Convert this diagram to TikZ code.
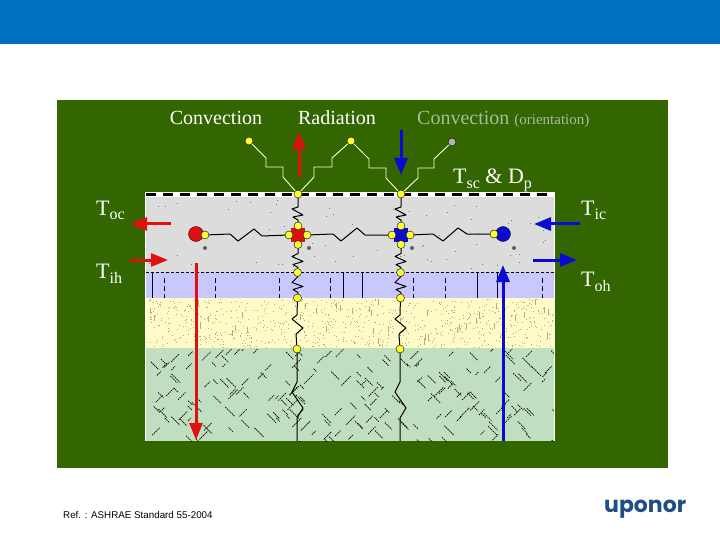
\documentclass[tikz,border=0pt]{standalone}
\usepackage{fontspec}
\setmainfont{Liberation Serif}
\setsansfont{Liberation Sans}
\newfontfamily\logofont{Poppins}
\usetikzlibrary{arrows.meta}
\definecolor{band}{HTML}{0070C0}
\definecolor{panel}{HTML}{336600}
\definecolor{concrete}{HTML}{DCDCDC}
\definecolor{lavender}{HTML}{C8C8FF}
\definecolor{sand}{HTML}{FFFBC8}
\definecolor{soil}{HTML}{C0DFC0}
\definecolor{speck}{HTML}{777777}
\definecolor{grit}{HTML}{B4AE78}
\definecolor{dim}{HTML}{A9BCA0}
\definecolor{dot}{HTML}{FFFF33}
\definecolor{hot}{HTML}{E01010}
\definecolor{cold}{HTML}{0A0AD0}
\definecolor{logoblue}{HTML}{1F4E86}
\tikzset{
  junction/.style={circle,fill=dot,draw=black,line width=0.4pt,inner sep=0pt,minimum size=8pt},
  wire/.style={black,line width=1pt},
  skywire/.style={white!85!dot,line width=0.9pt},
  hotarrow/.style={hot,line width=3pt,-{Triangle[length=17pt,width=13pt]}},
  coldarrow/.style={cold,line width=3pt,-{Triangle[length=17pt,width=13pt]}},
  label/.style={white,font=\fontsize{20}{20}\selectfont,inner sep=0pt,anchor=base west},
  biglabel/.style={label,font=\fontsize{22}{22}\selectfont}
}
\newcommand{\lowtext}[1]{\raisebox{-5pt}{\fontsize{16}{16}\selectfont #1}}

\begin{document}
\begin{tikzpicture}[x=1pt,y=-1pt,line join=round]
  % canvas 720 x 540
  \fill[white] (0,0) rectangle (720,540);
  \fill[band] (0,0) rectangle (720,44);
  \fill[panel] (57,100) rectangle (668,468);

  % ---- wall layers ----
  \fill[white] (145,192) rectangle (555,441);
  \fill[concrete] (146,197) rectangle (554,272);
  \fill[lavender] (146,272) rectangle (554,298);
  \fill[sand] (146,298) rectangle (554,348);
  \fill[soil] (146,348) rectangle (554,441);
  % surface strip
  \draw[black,line width=3.5pt,dash pattern=on 10pt off 7pt] (146,194.5) -- (554,194.5);
  \draw[black,line width=0.7pt,dash pattern=on 3pt off 2pt] (146,272) -- (554,272);

  % lavender layer ticks
  \foreach \x in {152,343,362,477,497}{
    \draw[black!80!blue,line width=0.7pt] (\x,272) -- (\x,298);
  }
  \foreach \x in {164,215,279,330,413,445,542}{
    \draw[black!80!blue,line width=0.7pt,dash pattern=on 5pt off 3pt] (\x,278) -- (\x,298);
  }

  % ---- specks and hatching ----
  \pgfmathsetseed{4711}
  \foreach \i in {1,...,70}{
    \pgfmathsetmacro\px{148+404*rnd}
    \pgfmathsetmacro\py{199+70*rnd}
    \fill[speck] (\px,\py) rectangle ++(1,1);
  }
  \foreach \x in {205,309,412,514}{
    \fill[speck!80!black] (\x,248) circle (2);
  }
  \foreach \i in {1,...,800}{
    \pgfmathsetmacro\px{147+406*rnd}
    \pgfmathsetmacro\py{299+48*rnd}
    \fill[grit] (\px,\py) rectangle ++(0.9,0.9);
  }
  \foreach \i in {1,...,40}{
    \pgfmathsetmacro\px{147+406*rnd}
    \pgfmathsetmacro\py{299+40*rnd}
    \draw[grit,line width=0.7pt] (\px,\py) -- ++(0,6);
  }
  \begin{scope}
    \clip (146,349) rectangle (554,441);
    \foreach \i in {1,...,210}{
      \pgfmathsetmacro\px{146+408*rnd}
      \pgfmathsetmacro\py{349+92*rnd}
      \pgfmathsetmacro\len{3+7*rnd}
      \pgfmathsetmacro\dir{rnd>0.5 ? 1 : -1}
      \draw[black,line width=0.7pt,dash pattern=on 1.5pt off 0.8pt]
        (\px,\py) -- ++(\len,\dir*\len);
    }
  \end{scope}

  % ---- junctions ----
  \node[junction] (skyl) at (249,141) {};
  \node[junction] (skym) at (351,141) {};
  \node[junction,fill=black!30,draw=black] (skyr) at (452,142) {};
  \node[junction] (surfa) at (298,194) {};
  \node[junction] (surfb) at (401,194) {};
  \node[fill=hot,inner sep=0pt,minimum size=14pt] (hub) at (298,235) {};
  \node[fill=cold,inner sep=0pt,minimum size=14pt] (cub) at (401,235) {};
  \foreach \n/\p in {a/298,b/401}{
    \node[junction] (\n n) at (\p,226) {};
    \node[junction] (\n s) at (\p,244.5) {};
    \node[junction] (\n w) at (\p-9,235) {};
    \node[junction] (\n e) at (\p+9,235) {};
    \node[junction] (\n l) at (\p-0.5,272.5) {};
    \node[junction] (\n m) at (\p-0.5,298) {};
    \node[junction] (\n k) at (\p-1,349) {};
  }
  \node[circle,fill=hot,draw=black,line width=0.3pt,inner sep=0pt,minimum size=15pt] (hotend) at (196,234) {};
  \node[circle,fill=cold,draw=black,line width=0.3pt,inner sep=0pt,minimum size=15pt] (coldend) at (503,234) {};
  \node[junction] (hotpin) at (205,235) {};
  \node[junction] (coldpin) at (494,234) {};
  \coordinate (basea) at (297,441);
  \coordinate (baseb) at (400,441);

  % ---- sky wires ----
  \draw[skywire] (skyl) -- (266,158) -- (266,167) -- (283,167) -- (283,177) -- (surfa);
  \draw[skywire] (surfa) -- (314,177) -- (314,167) -- (332,167) -- (332,158) -- (skym);
  \draw[skywire] (skym) -- (369,159) -- (369,168) -- (386,168) -- (386,178) -- (surfb);
  \draw[skywire] (surfb) -- (418,178) -- (418,168) -- (434,168) -- (434,159) -- (skyr);

  % ---- resistor wires ----
  \foreach \n in {a,b}{
    \draw[wire] (surf\n) -- ++(0,13) -- ++(-6,2) -- ++(11,6) -- ++(-10,2) -- ++(5,3) -- (\n n);
    \draw[wire] (\n s) -- ++(0,9) -- ++(-6,3) -- ++(11,5) -- ++(-10,3) -- ++(5,3) -- (\n l);
    \draw[wire] (\n l) -- ++(0.5,4) -- ++(-6,6) -- ++(11,4) -- ++(-10,3) -- ++(5,3) -- (\n m);
    \draw[wire] (\n m) -- ++(-0.5,17) -- ++(-5,4) -- ++(11,9) -- ++(-7,6) -- (\n k);
    \draw[wire] (\n k) -- ++(0,33) -- ++(-5,10) -- ++(11,16) -- ++(-6,10) -- (base\n);
  }
  \draw[wire] (hotpin) -- (230,234) -- (238,241) -- (254,229) -- (262,236) -- (aw);
  \draw[wire] (ae) -- (333,234) -- (341,241) -- (357,228) -- (365,235) -- (bw);
  \draw[wire] (be) -- (433,234) -- (443,241) -- (458,228) -- (467,234) -- (coldpin);

  % ---- flow arrows ----
  \foreach \n/\xa/\ya/\xb/\yb/\st in {%
      radup/299/177/299/132/hotarrow,
      raddown/401/130/401/175/coldarrow,
      hotout/171/224/130/224/hotarrow,
      hotin/130/260/168/260/hotarrow,
      coldin/580/224/534/224/coldarrow,
      coldout/533/260/577/260/coldarrow,
      hotdown/196/263/196/440/hotarrow,
      coldup/503/441/503/265/coldarrow}{
    \coordinate (\n s) at (\xa,\ya);
    \coordinate (\n t) at (\xb,\yb);
    \draw[\st] (\n s) -- (\n t);
  }

  % ---- labels ----
  \node[label,anchor=base] (lconv) at (216,125) {Convection};
  \node[label,anchor=base] (lrad) at (337,125) {Radiation};
  \node[label,text=dim] (lori) at (417,125) {Convection {\fontsize{15}{15}\selectfont (orientation)}};
  \node[biglabel] (lsurf) at (453,184) {T\lowtext{sc} \& D\lowtext{p}};
  \node[biglabel] (ltoc) at (96,215) {T\lowtext{oc}};
  \node[biglabel] (ltih) at (96,278) {T\lowtext{ih}};
  \node[biglabel] (ltic) at (581,215) {T\lowtext{ic}};
  \node[biglabel] (ltoh) at (581,286) {T\lowtext{oh}};
  \node[black,inner sep=0pt,anchor=base west,font=\sffamily\fontsize{9.8}{9.8}\selectfont] (lref) at (63,518) {Ref. : ASHRAE Standard 55-2004};
  \node[logoblue,inner sep=0pt,anchor=base west,font=\logofont\bfseries\fontsize{22}{22}\selectfont] (llogo) at (604,512) {uponor};
\end{tikzpicture}
\end{document}
